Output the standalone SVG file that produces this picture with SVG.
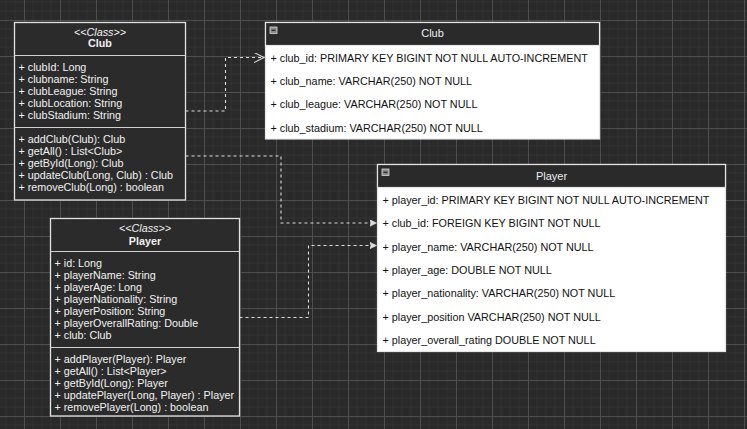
<svg xmlns="http://www.w3.org/2000/svg" width="747" height="429" viewBox="0 0 747 429">
<style>
.bg{fill:#2a2a2a}
.cls{fill:#2b2b2b;stroke:#e2e2e2;stroke-width:1.3}
.div{stroke:#d0d0d0;stroke-width:1.2}
.ct{font-family:"Liberation Sans",Arial,sans-serif;font-size:10.75px;fill:#f2f2f2}
.st{font-style:italic;text-anchor:middle}
.nm{font-weight:bold;text-anchor:middle}
.tbl{fill:#ffffff;stroke:#e6e6e6;stroke-width:1.2}
.th{fill:#2a2a2a;stroke:#e6e6e6;stroke-width:1.2}
.tt{font-family:"Liberation Sans",Arial,sans-serif;font-size:10.8px;fill:#111}
.tht{font-family:"Liberation Sans",Arial,sans-serif;font-size:11px;fill:#eeeeee;text-anchor:middle}
.ico{fill:#8a8a8a;stroke:#d8d8d8;stroke-width:0.8}
.edge{fill:none;stroke:#dcdcdc;stroke-width:1.1;stroke-dasharray:3 3}
</style>
<defs>
<pattern id="grid" x="24" y="20" width="36" height="36" patternUnits="userSpaceOnUse">
<rect width="36" height="36" fill="#2a2a2a"/>
<path d="M9,0V36M18,0V36M27,0V36M0,9H36M0,18H36M0,27H36" stroke="#323232" stroke-width="1"/>
<path d="M0.5,0V36M0,0.5H36" stroke="#4e4e4e" stroke-width="1"/>
</pattern>
<marker id="open" markerWidth="12" markerHeight="12" refX="10" refY="5" orient="auto" markerUnits="userSpaceOnUse">
<path d="M0,0L10,5L0,10" fill="none" stroke="#dcdcdc" stroke-width="1.1"/>
</marker>
<marker id="fill" markerWidth="10" markerHeight="10" refX="7" refY="3.5" orient="auto" markerUnits="userSpaceOnUse">
<path d="M0,0L7,3.5L0,7L1.5,3.5Z" fill="#dcdcdc" stroke="#dcdcdc" stroke-width="0.6"/>
</marker>
</defs>
<rect width="747" height="429" fill="url(#grid)"/>

<g id="connectors">
<path class="edge" d="M185.5,111 H225.5 V57.5 H264" marker-end="url(#open)"/>
<path class="edge" d="M185.5,156 H281 V223 H376.5" marker-end="url(#fill)"/>
<path class="edge" d="M239.5,317.5 H308.5 V245.5 H376.5" marker-end="url(#fill)"/>
</g>

<g id="class-club">
<rect class="cls" x="14.5" y="22.5" width="171" height="177.5"/>
<line class="div" x1="14.5" y1="55.5" x2="185.5" y2="55.5"/>
<line class="div" x1="14.5" y1="127.5" x2="185.5" y2="127.5"/>
<text class="ct st" x="100" y="35.5">&lt;&lt;Class&gt;&gt;</text>
<text class="ct nm" x="100" y="47">Club</text>
<text class="ct" x="18.5" y="71">+ clubId: Long</text>
<text class="ct" x="18.5" y="83">+ clubname: String</text>
<text class="ct" x="18.5" y="95">+ clubLeague: String</text>
<text class="ct" x="18.5" y="107">+ clubLocation: String</text>
<text class="ct" x="18.5" y="119">+ clubStadium: String</text>
<text class="ct" x="18.5" y="143">+ addClub(Club): Club</text>
<text class="ct" x="18.5" y="155">+ getAll() : List&lt;Club&gt;</text>
<text class="ct" x="18.5" y="167">+ getById(Long): Club</text>
<text class="ct" x="18.5" y="179">+ updateClub(Long, Club) : Club</text>
<text class="ct" x="18.5" y="191">+ removeClub(Long) : boolean</text>
</g>

<g id="class-player">
<rect class="cls" x="50.5" y="218.5" width="189" height="197.5"/>
<line class="div" x1="50.5" y1="251.5" x2="239.5" y2="251.5"/>
<line class="div" x1="50.5" y1="347.5" x2="239.5" y2="347.5"/>
<text class="ct st" x="145" y="232">&lt;&lt;Class&gt;&gt;</text>
<text class="ct nm" x="145" y="244.5">Player</text>
<text class="ct" x="54.5" y="267">+ id: Long</text>
<text class="ct" x="54.5" y="279">+ playerName: String</text>
<text class="ct" x="54.5" y="291">+ playerAge: Long</text>
<text class="ct" x="54.5" y="303">+ playerNationality: String</text>
<text class="ct" x="54.5" y="315">+ playerPosition: String</text>
<text class="ct" x="54.5" y="327">+ playerOverallRating: Double</text>
<text class="ct" x="54.5" y="339">+ club: Club</text>
<text class="ct" x="54.5" y="363">+ addPlayer(Player): Player</text>
<text class="ct" x="54.5" y="375">+ getAll() : List&lt;Player&gt;</text>
<text class="ct" x="54.5" y="387">+ getById(Long): Player</text>
<text class="ct" x="54.5" y="399">+ updatePlayer(Long, Player) : Player</text>
<text class="ct" x="54.5" y="411">+ removePlayer(Long) : boolean</text>
</g>

<g id="table-club">
<rect class="tbl" x="265.5" y="22.5" width="334" height="116.5"/>
<rect class="th" x="265.5" y="22.5" width="334" height="23"/>
<rect class="ico" x="270" y="27" width="7" height="6.5"/>
<line x1="271.5" y1="30.3" x2="275.5" y2="30.3" stroke="#222" stroke-width="1.2"/>
<text class="tht" x="432.5" y="37.3">Club</text>
<text class="tt" x="270.5" y="62.3">+ club_id: PRIMARY KEY BIGINT NOT NULL AUTO-INCREMENT</text>
<text class="tt" x="270.5" y="85">+ club_name: VARCHAR(250) NOT NULL</text>
<text class="tt" x="270.5" y="108.3">+ club_league: VARCHAR(250) NOT NULL</text>
<text class="tt" x="270.5" y="131.7">+ club_stadium: VARCHAR(250) NOT NULL</text>
</g>

<g id="table-player">
<rect class="tbl" x="377.5" y="164.5" width="348" height="187"/>
<rect class="th" x="377.5" y="164.5" width="348" height="23"/>
<rect class="ico" x="382" y="169" width="7" height="6.5"/>
<line x1="383.5" y1="172.3" x2="387.5" y2="172.3" stroke="#222" stroke-width="1.2"/>
<text class="tht" x="551.5" y="179.7">Player</text>
<text class="tt" x="382.5" y="204">+ player_id: PRIMARY KEY BIGINT NOT NULL AUTO-INCREMENT</text>
<text class="tt" x="382.5" y="227.3">+ club_id: FOREIGN KEY BIGINT NOT NULL</text>
<text class="tt" x="382.5" y="251">+ player_name: VARCHAR(250) NOT NULL</text>
<text class="tt" x="382.5" y="274.3">+ player_age: DOUBLE NOT NULL</text>
<text class="tt" x="382.5" y="297.3">+ player_nationality: VARCHAR(250) NOT NULL</text>
<text class="tt" x="382.5" y="321.3">+ player_position VARCHAR(250) NOT NULL</text>
<text class="tt" x="382.5" y="344">+ player_overall_rating DOUBLE NOT NULL</text>
</g>
</svg>
